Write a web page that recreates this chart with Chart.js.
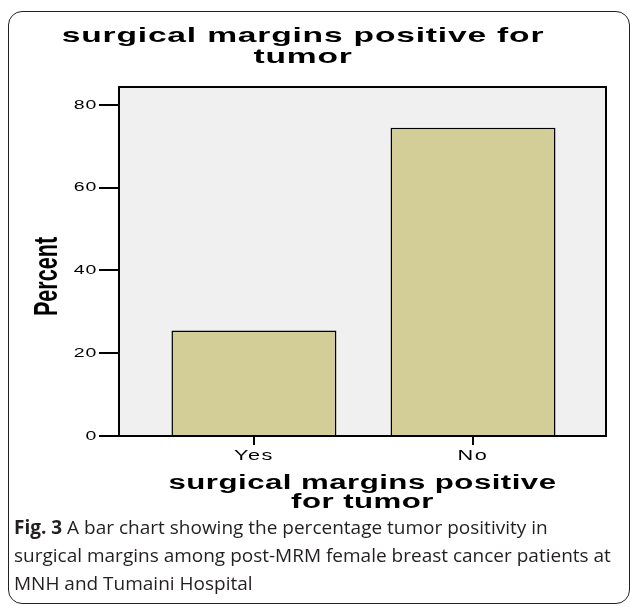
<!DOCTYPE html>
<html>
<head>
<meta charset="utf-8">
<script src="https://cdn.jsdelivr.net/npm/chart.js@4.4.1/dist/chart.umd.min.js"></script>
<style>
  html, body { margin: 0; padding: 0; background: #fff; }
  body { width: 630px; height: 607px; position: relative; overflow: hidden; }
  #frame { position: absolute; left: 8px; top: 11px; width: 622px; height: 593px; border: 1.5px solid #222; border-radius: 14px; box-sizing: border-box; }
  #wrap { position: absolute; left: 0; top: 0; width: 630px; height: 515px; }
  #caption { position: absolute; left: 14px; top: 513px; font-family: 'Open Sans', sans-serif; font-size: 19px; line-height: 28px; color: #231f20; white-space: nowrap; }
  #caption b { font-weight: 700; }
</style>
</head>
<body>
<div id="frame"></div>
<div id="wrap"><canvas id="chart" width="630" height="515"></canvas></div>
<div id="caption"><b>Fig. 3</b> A bar chart showing the percentage tumor positivity in<br>surgical margins among post-MRM female breast cancer patients at<br>MNH and Tumaini Hospital</div>
<script>
// data
const categories = ['Yes', 'No'];
const percent = [25.5, 74.5];
const yTicks = [0, 20, 40, 60, 80];
const titleLines = ['surgical margins positive for', 'tumor'];
const xTitleLines = ['surgical margins positive', 'for tumor'];
const yTitle = 'Percent';

const FONT = "'Liberation Sans', Arial, sans-serif";

// SPSS text comes out wide, so scale it around an anchor point
function stretched(ctx, cx, cy, sx, sy, spacing, fn) {
  ctx.save();
  ctx.letterSpacing = spacing + 'px';
  ctx.translate(cx, cy);
  ctx.scale(sx, sy);
  ctx.translate(-cx, -cy);
  fn();
  ctx.restore();
}

function wrapLabels(scale, sx, spacing) {
  const orig = scale.drawLabels;
  scale.drawLabels = function (area) {
    const items = this.getLabelItems(area);
    for (const it of items) {
      this._labelItems = [it];
      stretched(this.ctx, it.options.translation[0], 0, sx, 1, spacing, () => orig.call(this, area));
    }
    this._labelItems = items;
  };
}

const spssText = {
  id: 'spssText',
  afterLayout(chart) {
    const ctx = chart.ctx;
    const t = chart.titleBlock;
    if (t && !t._wide) {
      const d = t.draw;
      t.draw = function () { stretched(ctx, (this.left + this.right) / 2, 0, 1.6, 1, 0.5, () => d.call(this)); };
      t._wide = true;
    }
    const x = chart.scales.x, y = chart.scales.y;
    if (!x._wide) {
      const dt = x.drawTitle;
      x.drawTitle = function () { stretched(ctx, (this.left + this.right) / 2, 0, 1.56, 1, 0.3, () => dt.call(this)); };
      wrapLabels(x, 1.55, 1);
      x._wide = true;
    }
    if (!y._wide) {
      const dt = y.drawTitle;
      // narrow bold label, sat a little below the middle of the axis
      y.drawTitle = function () {
        const cy = (this.top + this.bottom) / 2;
        ctx.save();
        ctx.translate(0, 15);
        stretched(ctx, 47.5, cy, 1.4, 0.9, 0, () => dt.call(this));
        ctx.restore();
      };
      wrapLabels(y, 1.5, 0.5);
      y._wide = true;
    }
  }
};

// grey plot panel with a black box round it
const plotFrame = {
  id: 'plotFrame',
  beforeDraw(chart) {
    const { ctx, chartArea: a } = chart;
    ctx.save();
    ctx.fillStyle = '#f0f0f0';
    ctx.fillRect(a.left, a.top, a.right - a.left, a.bottom - a.top);
    ctx.restore();
  },
  afterDatasetsDraw(chart) {
    const { ctx, chartArea: a } = chart;
    ctx.save();
    ctx.strokeStyle = '#000';
    ctx.lineWidth = 2;
    ctx.strokeRect(a.left, a.top, a.right - a.left, a.bottom - a.top);
    ctx.restore();
  }
};

new Chart(document.getElementById('chart'), {
  type: 'bar',
  data: {
    datasets: [{
      data: percent.map((v, i) => ({ x: i, y: v })),
      backgroundColor: '#d3ce97',
      borderColor: '#000',
      borderWidth: 1.5,
      barPercentage: 0.753,
      categoryPercentage: 1
    }]
  },
  options: {
    responsive: false,
    animation: false,
    devicePixelRatio: 1,
    layout: { padding: { left: 0, right: 24, top: 0, bottom: 0 } },
    plugins: {
      legend: { display: false },
      tooltip: { enabled: false },
      title: {
        display: true,
        text: titleLines,
        color: '#000',
        font: { family: FONT, size: 21, weight: 'bold', lineHeight: 1.0 },
        padding: { top: 25.5, bottom: 19.5 }
      }
    },
    scales: {
      x: {
        type: 'linear',
        offset: false,
        min: -0.616,
        max: 1.607,
        afterBuildTicks: s => { s.ticks = categories.map((c, i) => ({ value: i })); },
        afterFit: s => { s.height = 79; },
        grid: { offset: false, drawOnChartArea: false, drawTicks: true, tickLength: 9, color: '#000', lineWidth: 2 },
        border: { display: false },
        ticks: {
          color: '#000',
          padding: 3,
          font: { family: FONT, size: 14 },
          callback: v => categories[v]
        },
        title: {
          display: true,
          text: xTitleLines,
          color: '#000',
          font: { family: FONT, size: 20, weight: 'bold', lineHeight: 0.97 },
          padding: { top: 0, bottom: 2.5 }
        }
      },
      y: {
        min: 0,
        max: 84.35,
        afterBuildTicks: s => { s.ticks = yTicks.map(v => ({ value: v })); },
        afterFit: s => { s.width = 119; },
        grid: { drawOnChartArea: false, drawTicks: true, tickLength: 20, color: '#000', lineWidth: 2 },
        border: { display: false },
        ticks: {
          color: '#000',
          padding: 2,
          font: { family: FONT, size: 13 }
        },
        title: {
          display: true,
          text: yTitle,
          color: '#000',
          font: { family: FONT, size: 24, weight: 'bold', lineHeight: 1 },
          padding: { top: 35.5, bottom: 0 }
        }
      }
    }
  },
  plugins: [plotFrame, spssText]
});
</script>
</body>
</html>
